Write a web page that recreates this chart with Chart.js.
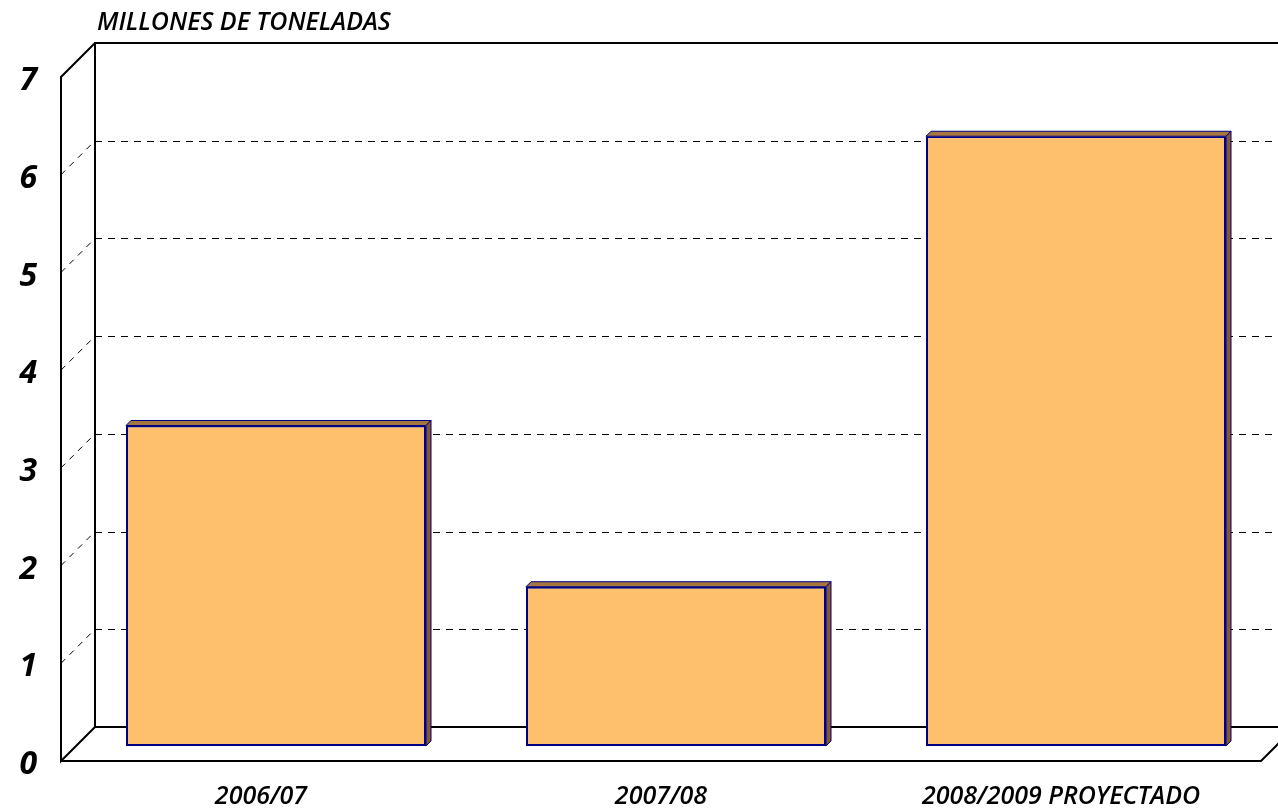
<!DOCTYPE html>
<html><head><meta charset="utf-8">
<script src="https://cdn.jsdelivr.net/npm/chart.js@4/dist/chart.umd.min.js"></script>
<style>html,body{margin:0;padding:0;background:#fff;overflow:hidden}#wrap{width:1278px;height:809px;position:relative}</style>
</head><body><div id="wrap"><canvas id="c" width="1278" height="809"></canvas></div>
<script>
const categories = ['2006/07', '2007/08', '2008/2009 PROYECTADO'];
const values = [3.28, 1.63, 6.24];
const yTicks = [0, 1, 2, 3, 4, 5, 6, 7];
const axisTitle = 'MILLONES DE TONELADAS';

const BACK = 19, FRONT = 15, BAR_D = 5;
const FONT = '"Open Sans", "DejaVu Sans", sans-serif';

const frame3d = {
  id: 'frame3d',
  beforeDatasetsDraw(chart) {
    const { ctx, chartArea: a, scales: { y } } = chart;
    const W = chart.width;
    const yb = v => y.getPixelForValue(v) - BACK;
    const yf = v => y.getPixelForValue(v) + FRONT;
    const bl = a.left + BACK, br = a.right + BACK, fl = a.left - FRONT, fr = a.right - FRONT;
    const top = yTicks[yTicks.length - 1];
    ctx.save();
    ctx.strokeStyle = '#000';
    ctx.lineWidth = 1;
    ctx.setLineDash([7, 6]);
    yTicks.slice(1, -1).forEach(v => {
      ctx.beginPath();
      ctx.moveTo(bl, Math.round(yb(v)) + 0.5);
      ctx.lineTo(W, Math.round(yb(v)) + 0.5);
      ctx.stroke();
    });
    ctx.strokeStyle = '#000';
    ctx.setLineDash([6, 6]);
    yTicks.slice(1, -1).forEach(v => {
      ctx.beginPath();
      ctx.moveTo(fl, yf(v));
      ctx.lineTo(bl, yb(v));
      ctx.stroke();
    });
    ctx.setLineDash([]);
    ctx.strokeStyle = '#000';
    ctx.lineWidth = 2;
    ctx.beginPath();
    ctx.moveTo(W, yb(top)); ctx.lineTo(bl, yb(top)); ctx.lineTo(bl, yb(0)); ctx.lineTo(br, yb(0));
    ctx.moveTo(bl, yb(top)); ctx.lineTo(fl, yf(top)); ctx.lineTo(fl, yf(0)); ctx.lineTo(bl, yb(0));
    ctx.moveTo(fl, yf(0)); ctx.lineTo(fr, yf(0)); ctx.lineTo(br, yb(0));
    ctx.stroke();
    ctx.restore();
  },
  afterDatasetsDraw(chart) {
    const { ctx, scales: { x, y } } = chart;
    const meta = chart.getDatasetMeta(0);
    ctx.save();
    meta.data.forEach(bar => {
      const p = bar.getProps(['x', 'y', 'base', 'width'], true);
      const l = p.x - p.width / 2, r = p.x + p.width / 2, t = p.y, b = p.base;
      const d = BAR_D;
      ctx.lineWidth = 1;
      ctx.strokeStyle = '#000080';
      ctx.lineJoin = 'miter';
      ctx.beginPath();
      ctx.moveTo(l, t); ctx.lineTo(l + d, t - d); ctx.lineTo(r + d, t - d); ctx.lineTo(r, t); ctx.closePath();
      ctx.fillStyle = '#A5763F';
      ctx.fill(); ctx.stroke();
      ctx.beginPath();
      ctx.moveTo(r, t); ctx.lineTo(r + d, t - d); ctx.lineTo(r + d, b - d); ctx.lineTo(r, b); ctx.closePath();
      ctx.fillStyle = '#82592F';
      ctx.fill(); ctx.stroke();
    });
    ctx.fillStyle = '#000';
    ctx.textBaseline = 'middle';
    ctx.textAlign = 'right';
    ctx.font = 'italic 700 32px ' + FONT;
    yTicks.forEach(v => {
      ctx.fillText(String(v), 37, y.getPixelForValue(v) + FRONT + 4);
    });
    ctx.textAlign = 'center';
    ctx.font = 'italic 600 25px ' + FONT;
    categories.forEach((c, i) => {
      ctx.fillText(c, x.getPixelForValue(i) - FRONT, 797);
    });
    ctx.textAlign = 'left';
    ctx.font = 'italic 600 25px ' + FONT;
    ctx.fillText(axisTitle, 97, 23);
    ctx.restore();
  }
};

new Chart(document.getElementById('c'), {
  type: 'bar',
  data: {
    labels: categories,
    datasets: [{
      data: values,
      backgroundColor: '#FFC06E',
      borderColor: '#000080',
      borderWidth: 2,
      borderSkipped: false,
      barPercentage: 0.75,
      categoryPercentage: 1.0
    }]
  },
  options: {
    responsive: false,
    devicePixelRatio: 1,
    animation: false,
    layout: { padding: { left: 76, right: 2, top: 62, bottom: 63 } },
    plugins: { legend: { display: false }, title: { display: false }, tooltip: { enabled: false } },
    scales: {
      x: { display: false, offset: true },
      y: { display: false, min: 0, max: 7 }
    }
  },
  plugins: [frame3d]
});
</script>
</body></html>
